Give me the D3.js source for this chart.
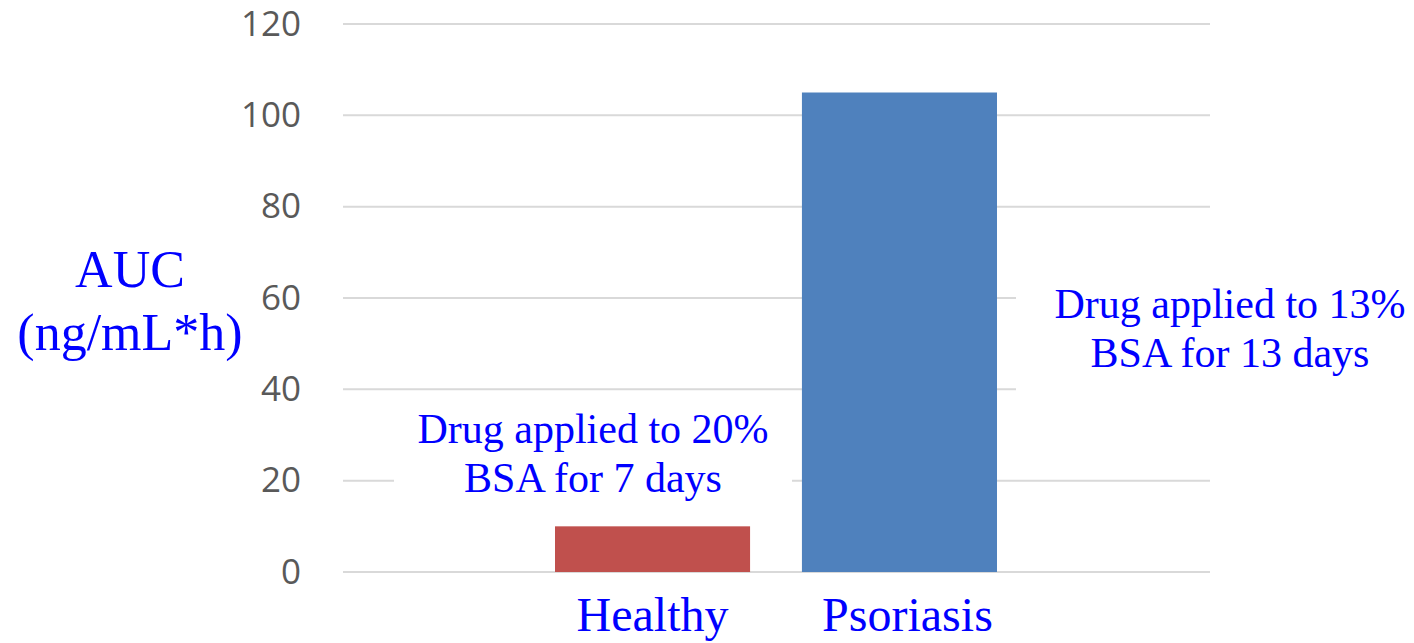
<!DOCTYPE html>
<html>
<head>
<meta charset="utf-8">
<script src="https://cdn.jsdelivr.net/npm/d3@7"></script>
<style>
  body { margin: 0; background: #fff; }
  svg { display: block; }
</style>
</head>
<body>
<div id="chart"></div>
<script>
"use strict";

// data
var categories = ["Healthy", "Psoriasis"];
var auc = [10, 105];
var barColors = ["#C0504D", "#4F81BD"];
var yTicks = [0, 20, 40, 60, 80, 100, 120];
var notes = [
    ["Drug applied to 20%", "BSA for 7 days"],
    ["Drug applied to 13%", "BSA for 13 days"]
];

var width = 1414,
    height = 643;

var svg = d3.select("#chart").append("svg")
    .attr("width", width)
    .attr("height", height);

// scales
var y = d3.scaleLinear().domain([0, 120]).range([572, 24]);
var x = d3.scaleBand().domain(categories).range([555, 997]).paddingInner(0.21);

// gridlines
svg.append("g")
    .selectAll("line")
    .data(yTicks)
    .enter().append("line")
    .attr("x1", 343)
    .attr("x2", 1210)
    .attr("y1", function (d) { return y(d); })
    .attr("y2", function (d) { return y(d); })
    .style("stroke", "#D9D9D9")
    .style("stroke-width", 2);

// y tick labels
var yAxis = svg.append("g")
    .attr("transform", "translate(343,0)")
    .call(d3.axisLeft(y).tickValues(yTicks).tickSize(0).tickPadding(42));
yAxis.select(".domain").remove();
yAxis.selectAll("text")
    .style("font-family", "'Open Sans', sans-serif")
    .style("font-size", "35px")
    .style("fill", "#595959");

// white boxes behind the notes (they hide the gridlines)
svg.append("rect")
    .attr("x", 394).attr("y", 400).attr("width", 398).attr("height", 100)
    .style("fill", "#fff");
svg.append("rect")
    .attr("x", 1016).attr("y", 270).attr("width", 398).attr("height", 132)
    .style("fill", "#fff");

// bars
svg.selectAll(".bar")
    .data(auc)
    .enter().append("rect")
    .attr("class", "bar")
    .attr("x", function (d, i) { return x(categories[i]); })
    .attr("width", x.bandwidth())
    .attr("y", function (d) { return y(d); })
    .attr("height", function (d) { return y(0) - y(d); })
    .style("fill", function (d, i) { return barColors[i]; });

// category labels
svg.selectAll(".cat")
    .data(categories)
    .enter().append("text")
    .attr("class", "cat")
    .attr("x", function (d, i) { return x(d) + x.bandwidth() / 2 + (i === 1 ? 8 : 0); })
    .attr("y", 631)
    .attr("text-anchor", "middle")
    .style("font-family", "'Liberation Serif', 'Times New Roman', serif")
    .style("font-size", "48px")
    .style("fill", "#0000FF")
    .text(function (d) { return d; });

// y title
var yTitle = svg.append("text")
    .attr("text-anchor", "middle")
    .style("font-family", "'Liberation Serif', 'Times New Roman', serif")
    .style("font-size", "52px")
    .style("fill", "#0000FF");
yTitle.append("tspan").attr("x", 130).attr("y", 287).text("AUC");
yTitle.append("tspan").attr("x", 130).attr("y", 350).text("(ng/mL*h)");

// notes
var notePos = [[593, 443], [1230, 318]];
notes.forEach(function (lines, i) {
    var t = svg.append("text")
        .attr("text-anchor", "middle")
        .style("font-family", "'Liberation Serif', 'Times New Roman', serif")
        .style("font-size", "42px")
        .style("fill", "#0000FF");
    lines.forEach(function (s, j) {
        t.append("tspan")
            .attr("x", notePos[i][0])
            .attr("y", notePos[i][1] + j * 49)
            .text(s);
    });
});
</script>
</body>
</html>
